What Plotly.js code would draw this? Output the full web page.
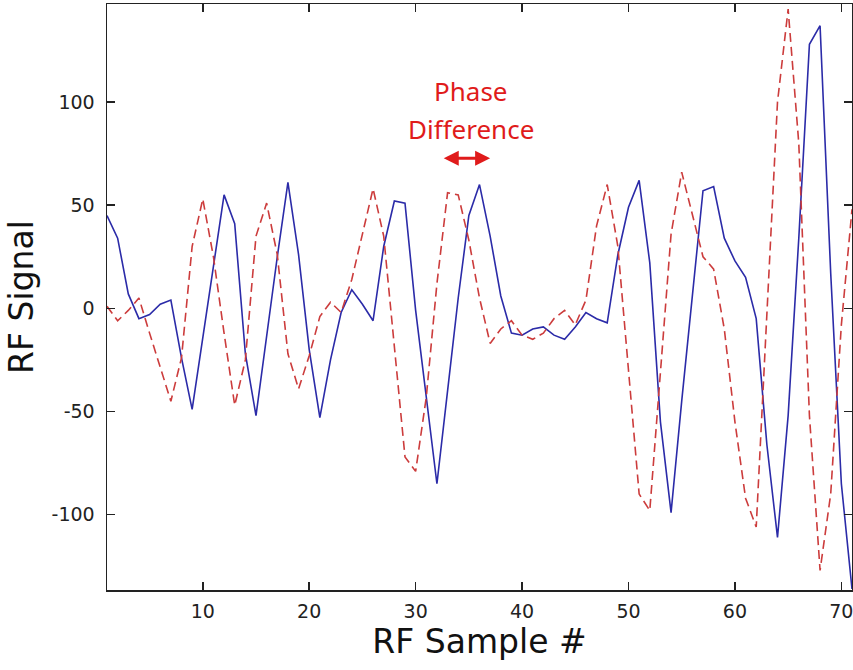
<!DOCTYPE html>
<html>
<head>
<meta charset="utf-8">
<script src="https://cdn.plot.ly/plotly-3.0.1.min.js"></script>
<style>
  html, body { margin: 0; padding: 0; background: #ffffff; }
  #chart { width: 853px; height: 670px; }
</style>
</head>
<body>
<div id="chart"></div>
<script>
// RF sample index 1..71
const samples = [];
for (let i = 1; i <= 71; i++) samples.push(i);

// Solid blue RF signal
const signalA = [
  45, 34, 7, -5, -3, 2, 4, -24, -49, -14,
  22, 55, 41, -22, -52, -13, 25, 61, 26, -20,
  -53, -25, -2, 9, 2, -6, 30, 52, 51, -1,
  -44, -85, -40, 5, 45, 60, 35, 6, -12, -13,
  -10, -9, -13, -15, -9, -2, -5, -7, 26, 49,
  62, 22, -55, -99, -45, 5, 57, 59, 34, 23,
  15, -5, -66, -111, -52, 34, 128, 137, 17, -85,
  -136
];

// Dashed red RF signal
const signalB = [
  1, -6, -1, 5, -12, -28, -45, -24, 30, 53,
  25, -12, -47, -25, 35, 51, 26, -22, -39, -23,
  -4, 3, -2, 14, 36, 58, 35, -19, -72, -79,
  -43, 12, 56, 55, 33, 5, -17, -10, -6, -13,
  -15, -12, -5, -1, -8, 4, 40, 60, 30, -30,
  -90, -98, -32, 36, 66, 45, 25, 19, -10, -55,
  -92, -106, -1, 100, 145, 80, -52, -127, -90, -8,
  48
];

const xTicks = [10, 20, 30, 40, 50, 60, 70];
const yTicks = [-100, -50, 0, 50, 100];

const traceA = {
  x: samples, y: signalA, type: 'scatter', mode: 'lines',
  line: { color: '#2b2ba8', width: 1.6 },
  hoverinfo: 'skip'
};
const traceB = {
  x: samples, y: signalB, type: 'scatter', mode: 'lines',
  line: { color: '#cc3c3c', width: 1.6, dash: '9px,5px' },
  hoverinfo: 'skip'
};

const axisFont = { family: 'DejaVu Sans, Arial, sans-serif', size: 19, color: '#222222' };
const titleFont = { family: 'DejaVu Sans, Arial, sans-serif', size: 33, color: '#111111' };
const red = '#e01b1b';

const layout = {
  width: 853, height: 670,
  margin: { l: 107, r: 1, t: 4, b: 80 },
  paper_bgcolor: '#ffffff', plot_bgcolor: '#ffffff',
  showlegend: false,
  xaxis: {
    range: [1, 71],
    tickvals: xTicks,
    ticktext: xTicks.map(String),
    ticks: 'inside', ticklen: 8, tickwidth: 1.5, tickcolor: '#222222',
    showline: true, linecolor: '#222222', linewidth: 1.5, mirror: 'ticks',
    showgrid: false, zeroline: false,
    tickfont: axisFont,
    ticklabelstandoff: 4,
    ticklabeloverflow: 'allow',
    title: { text: 'RF Sample #', font: titleFont, standoff: 6 }
  },
  yaxis: {
    range: [-136.5, 147.5],
    tickvals: yTicks,
    ticktext: yTicks.map(String),
    ticks: 'inside', ticklen: 8, tickwidth: 1.5, tickcolor: '#222222',
    showline: true, linecolor: '#222222', linewidth: 1.5, mirror: 'ticks',
    showgrid: false, zeroline: false,
    tickfont: axisFont,
    ticklabelstandoff: 7,
    ticklabeloverflow: 'allow',
    title: { text: 'RF Signal', font: titleFont, standoff: 8 }
  },
  annotations: [
    { text: 'Phase', xref: 'x', yref: 'y', x: 35.2, y: 105.5, showarrow: false,
      xanchor: 'center', yanchor: 'middle',
      font: { family: 'Noto Sans, Open Sans, sans-serif', size: 26, color: red } },
    { text: 'Difference', xref: 'x', yref: 'y', x: 35.2, y: 87, showarrow: false,
      xanchor: 'center', yanchor: 'middle',
      font: { family: 'Noto Sans, Open Sans, sans-serif', size: 26, color: red } },
    { text: '', xref: 'x', yref: 'y', x: 37.0, y: 72.7,
      axref: 'x', ayref: 'y', ax: 32.5, ay: 72.7,
      showarrow: true, arrowside: 'end+start', arrowhead: 2, startarrowhead: 2,
      arrowsize: 1.0, startarrowsize: 1.0, arrowwidth: 3, arrowcolor: red }
  ]
};

Plotly.newPlot('chart', [traceA, traceB], layout, { staticPlot: true, displayModeBar: false });
</script>
</body>
</html>
